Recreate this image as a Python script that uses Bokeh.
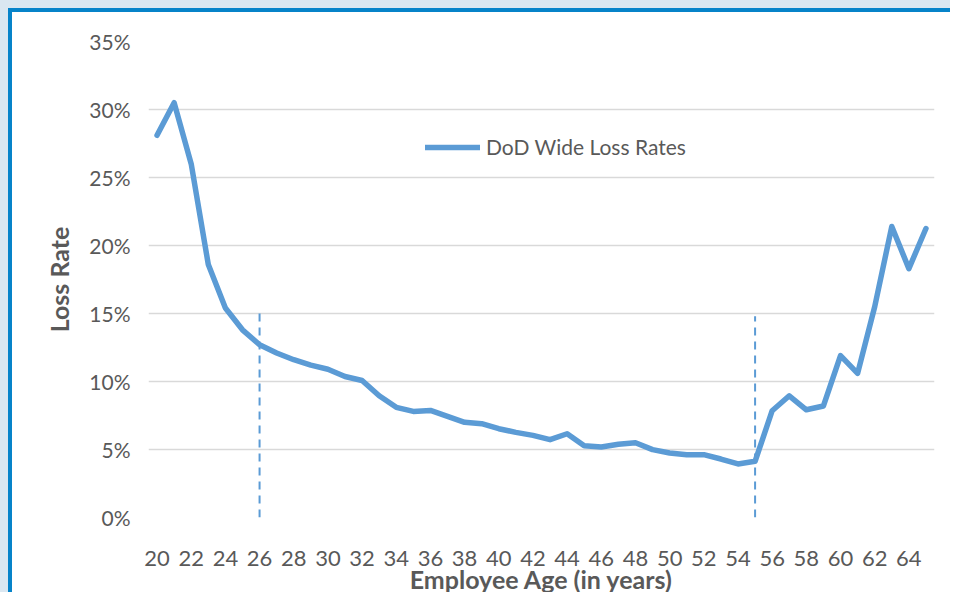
from bokeh.plotting import figure
from bokeh.models import Range1d, FixedTicker, NumeralTickFormatter
from bokeh.embed import file_html
from bokeh.resources import INLINE

# Data
ages = list(range(20, 66))
loss_pct = [28.1, 30.5, 26.0, 18.6, 15.4, 13.8, 12.7, 12.1, 11.6, 11.2,
            10.9, 10.37, 10.07, 8.95, 8.1, 7.8, 7.87, 7.43, 7.0, 6.9,
            6.53, 6.26, 6.04, 5.72, 6.16, 5.28, 5.19, 5.38, 5.5, 4.99,
            4.74, 4.62, 4.62, 4.3, 3.94, 4.13, 7.85, 8.95, 7.92, 8.2,
            11.9, 10.6, 15.5, 21.4, 18.3, 21.25]
loss = [v / 100 for v in loss_pct]
cutoff_ages = [26, 55]
cutoff_tops = [0.153, 0.148]
y_ticks = [0, 0.05, 0.10, 0.15, 0.20, 0.25, 0.30, 0.35]
x_ticks = list(range(20, 65, 2))

BLUE = "#5b9bd5"
GREY_TXT = "#595959"
FONT = "Lato"

p = figure(width=942, height=584,
           x_range=Range1d(19.5, 65.5), y_range=Range1d(0, 0.35),
           output_backend="svg", toolbar_location=None,
           min_border_left=136, min_border_right=20,
           min_border_top=29, min_border_bottom=78,
           styles={"margin-top": "8px", "margin-left": "8px",
                   "vertical-align": "top",
                   "border-top": "4px solid #0683c9",
                   "border-left": "4px solid #0683c9",
                   "box-shadow": "-8px -8px 0 8px #dae7f1"})
p.outline_line_color = None
p.background_fill_color = "white"
p.border_fill_color = "white"

# grid
p.xgrid.visible = False
p.ygrid.grid_line_color = "#d9d9d9"
p.ygrid.grid_line_width = 1.6

# axes
p.yaxis.ticker = FixedTicker(ticks=y_ticks)
p.yaxis.formatter = NumeralTickFormatter(format="0%")
p.xaxis.ticker = FixedTicker(ticks=x_ticks)
for ax in (p.xaxis[0], p.yaxis[0]):
    ax.axis_line_color = None
    ax.major_tick_line_color = None
    ax.minor_tick_line_color = None
    ax.major_label_text_font = FONT
    ax.major_label_text_color = GREY_TXT
    ax.axis_label_text_font = FONT
    ax.axis_label_text_font_size = "25px"
    ax.axis_label_text_font_style = "bold"
    ax.axis_label_text_color = GREY_TXT
p.yaxis.major_label_text_font_size = "21px"
p.xaxis.major_label_text_font_size = "22px"
p.yaxis.major_label_standoff = 12
p.xaxis.major_label_standoff = 27
p.xaxis.axis_label = "Employee Age (in years)"
p.yaxis.axis_label = "Loss Rate"
p.xaxis.axis_label_standoff = -5
p.yaxis.axis_label_standoff = 12

# cutoff dashed lines
p.segment(x0=cutoff_ages, y0=[0, 0], x1=cutoff_ages, y1=cutoff_tops,
          line_color=BLUE, line_width=2, line_dash="8 6")

# main line
p.line(ages, loss, line_color=BLUE, line_width=5.5,
       line_join="round", line_cap="round",
       legend_label="DoD Wide Loss Rates")

lg = p.legend[0]
lg.location = (277, 358)
lg.border_line_color = None
lg.background_fill_alpha = 0
lg.padding = 0
lg.margin = 0
lg.glyph_width = 55
lg.label_standoff = 6
lg.label_text_font = FONT
lg.label_text_font_size = "21px"
lg.label_text_color = GREY_TXT

open("out.html", "w").write(file_html(p, INLINE))
